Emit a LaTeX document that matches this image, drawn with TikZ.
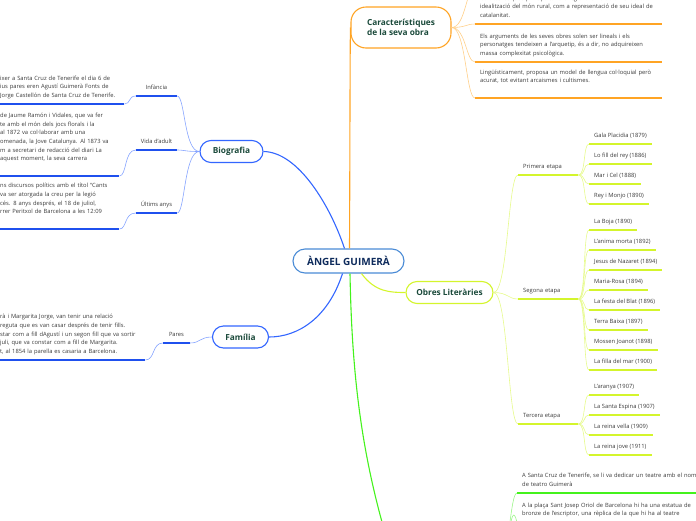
\documentclass[tikz,border=0pt]{standalone}
\usepackage{fontspec}
\setmainfont{Open Sans}
\definecolor{MapRoot}{HTML}{4A8BD6}
\definecolor{MapNavy}{HTML}{0E2B5C}
\definecolor{MapTopic}{HTML}{1B4A3B}
\definecolor{MapText}{HTML}{3A3A3A}
\definecolor{MapBlue}{HTML}{3366FF}
\definecolor{MapBlueDark}{HTML}{1F50EE}
\definecolor{MapBlueSoft}{HTML}{86A4FF}
\definecolor{MapOrange}{HTML}{FFA424}
\definecolor{MapOrangeSoft}{HTML}{FFD08A}
\definecolor{MapLime}{HTML}{D4F52C}
\definecolor{MapLimeSoft}{HTML}{E6FA8C}
\definecolor{MapGreen}{HTML}{44F21C}
\definecolor{MapGreenSoft}{HTML}{9CF58A}

\begin{document}
\begin{tikzpicture}[x=1pt,y=-1pt]
\tikzset{
  root/.style={draw=MapRoot,line width=1.1pt,rounded corners=12pt,fill=white,
               minimum width=111pt,minimum height=24pt,inner sep=0pt,
               text=MapNavy,font=\bfseries\fontsize{10}{12}\selectfont},
  topic/.style={line width=1.1pt,rounded corners=11pt,fill=white,inner sep=0pt,
                minimum height=22pt,text=MapTopic,font=\bfseries\fontsize{8.3}{10.5}\selectfont},
  branch/.style={line width=1.1pt},
  twig/.style={line width=0.6pt},
  uline/.style={line width=1.5pt},
  leaf/.style={anchor=south west,align=left,inner xsep=5pt,inner ysep=3.9pt,
               text=MapText,font=\fontsize{5.8}{8.6}\selectfont},
  stem/.style={anchor=south,inner xsep=0pt,inner ysep=3.9pt,
               text=MapText,font=\fontsize{5.8}{8.6}\selectfont}
}
\useasboundingbox (0,0) rectangle (696,520);
\clip (0,0) rectangle (696,520);

% ---------- central topic and main branches ---------------------------
\node[root] (root) at (348.5,261) {ÀNGEL GUIMERÀ};
\node[topic,draw=MapBlue,minimum width=63pt] (bio) at (231.5,151.5) {Biografia};
\node[topic,draw=MapBlue,minimum width=56pt] (fam) at (240.5,337) {Família};
\node[topic,draw=MapOrange,minimum width=100pt,minimum height=41pt,
      rounded corners=15pt,align=left] (car) at (401,27.5) {Característiques\\de la seva obra};
\node[topic,draw=MapLime,minimum width=87pt] (obres) at (449.5,292.5) {Obres Literàries};
\coordinate (llegat) at (400,580);

\draw[branch,MapBlue] ([xshift=-4pt]root.north) .. controls (330,205) and (298,152) .. (bio.east);
\draw[branch,MapBlue] ([xshift=-6pt]root.south) .. controls (328,318) and (298,337) .. (fam.east);
\draw[branch,MapOrange] ([xshift=1pt]root.north) .. controls (350,140) and (350,50) .. (car.west);
\draw[branch,MapLime] ([xshift=13pt]root.south) .. controls (375,292) and (390,292.5) .. (obres.west);
\draw[branch,MapGreen] ([xshift=1.5pt]root.south) .. controls (352,380) and (362,470) .. (llegat);

% ---------- Biografia ---------------------------------------------------
\node[stem,minimum width=41pt] (infancia) at (156.5,96) {Infància\strut};
\node[stem,minimum width=41pt] (vida) at (156.5,150) {Vida d'adult\strut};
\node[stem,minimum width=41pt] (ultims) at (156.5,213) {Últims anys\strut};
\foreach \nm/\yy in {infancia/96,vida/150,ultims/213}{
  \draw[uline,MapBlueDark] (\nm.south west) -- (\nm.south east);
  \draw[twig,MapBlueSoft] (bio.west) .. controls (184,151.5) and (185,\yy) .. (\nm.south east);
}

\node[leaf,text width=119pt] (infanciatxt) at (-5,104)
  {ixer a Santa Cruz de Tenerife el dia 6 de\\
   ius pares eren Agustí Guimerà Fonts de\\
   Jorge Castellón de Santa Cruz de Tenerife.\strut};
\node[leaf,text width=114pt] (vidatxt) at (-5,176)
  {de Jaume Ramón i Vidales, que va fer\\
   te amb el món dels jocs florals i la\\
   al 1872 va col·laborar amb una\\
   omenada, la Jove Catalunya. Al 1873 va\\
   m a secretari de redacció del diari La\\
   aquest moment, la seva carrera\\\strut};
\node[leaf,text width=114pt] (ultimstxt) at (-5,229)
  {ns discursos polítics amb el títol “Cants\\
   va ser atorgada la creu per la legió\\
   cés. 8 anys després, el 18 de juliol,\\
   rrer Peritxol de Barcelona a les 12:09\\\strut};
\draw[uline,MapBlueDark] (infanciatxt.south west) -- (infanciatxt.south east);
\draw[uline,MapBlueDark] (vidatxt.south west) -- (vidatxt.south east);
\draw[uline,MapBlueDark] (ultimstxt.south west) -- (ultimstxt.south east);
\draw[twig,MapBlueSoft] (infancia.south west) .. controls (128,96) and (131,104) .. (infanciatxt.south east);
\draw[twig,MapBlueSoft] (vida.south west) .. controls (124,150) and (127,176) .. (vidatxt.south east);
\draw[twig,MapBlueSoft] (ultims.south west) .. controls (124,213) and (127,229) .. (ultimstxt.south east);

% ---------- Familia -----------------------------------------------------
\node[stem,minimum width=27pt] (pares) at (176.5,343) {Pares\strut};
\node[leaf,text width=140pt] (parestxt) at (-5,360)
  {rà i Margarita Jorge, van tenir una relació\\
   reguta que es van casar després de tenir fills.\\
   star com a fill dAgustí i un segon fill que va sortir\\
   juli, que va constar com a fill de Margarita.\\
   t, al 1854 la parella es casaria a Barcelona.\strut};
\draw[uline,MapBlueDark] (pares.south west) -- (pares.south east);
\draw[uline,MapBlueDark] (parestxt.south west) -- (parestxt.south east);
\draw[twig,MapBlueSoft] (fam.west) .. controls (200,337) and (200,343) .. (pares.south east);
\draw[twig,MapBlueSoft] (pares.south west) .. controls (152,343) and (155,360) .. (parestxt.south east);

% ---------- Caracteristiques de la seva obra ---------------------------
\coordinate (caratop) at (476,-14);
\node[leaf,text width=177pt] (cara1) at (475,24)
  {Característiques principals: fort regionalisme clarament català i\\
   idealització del món rural, com a representació de seu ideal de\\
   catalanitat.\strut};
\node[leaf,text width=177pt] (cara2) at (475,62)
  {Els arguments de les seves obres solen ser lineals i els\\
   personatges tendeixen a l'arquetip, és a dir, no adquireixen\\
   massa complexitat psicològica.\strut};
\node[leaf,text width=177pt] (cara3) at (475,98)
  {Lingüísticament, proposa un model de llengua col·loquial però\\
   acurat, tot evitant arcaismes i cultismes.\\\strut};
\draw[twig,MapOrangeSoft] (car.east) .. controls (466,27.5) and (466,-14) .. (caratop);
\foreach \nm/\yy in {cara1/24,cara2/62,cara3/98}{
  \draw[uline,MapOrange] (\nm.south west) -- (\nm.south east);
  \draw[twig,MapOrangeSoft] (car.east) .. controls (466,27.5) and (466,\yy) .. (\nm.south west);
}

% ---------- Obres Literaries --------------------------------------------
\node[leaf,text width=50pt] (primera) at (518,175) {Primera etapa\strut};
\node[leaf,text width=50pt] (segona) at (518,299) {Segona etapa\strut};
\node[leaf,text width=50pt] (tercera) at (518,424) {Tercera etapa\strut};
\foreach \nm/\yy in {primera/175,segona/299,tercera/424}{
  \draw[uline,MapLime] (\nm.south west) -- (\nm.south east);
  \draw[twig,MapLimeSoft] (obres.east) .. controls (508,292.5) and (508,\yy) .. (\nm.south west);
}

\foreach \nm/\yy/\tx in {gala/144/Gala Placidia (1879),fillrey/164/Lo fill del rey (1886),
                        marcel/184/Mar i Cel (1888),monjo/204/Rey i Monjo (1890)}{
  \node[leaf] (\nm) at (589,\yy) {\tx\strut};
  \draw[uline,MapLime] (\nm.south west) -- (\nm.south east);
  \draw[twig,MapLimeSoft] (primera.south east) .. controls (586,175) and (583,\yy) .. (\nm.south west);
}
\foreach \nm/\yy/\tx in {boja/230/La Boja (1890),anima/250/L'anima morta (1892),
                        jesus/270/Jesus de Nazaret (1894),mariarosa/290/Maria-Rosa (1894),
                        festa/310/La festa del Blat (1896),terra/330/Terra Baixa (1897),
                        mossen/350/Mossen Joanot (1898),filla/370/La filla del mar (1900)}{
  \node[leaf] (\nm) at (589,\yy) {\tx\strut};
  \draw[uline,MapLime] (\nm.south west) -- (\nm.south east);
  \draw[twig,MapLimeSoft] (segona.south east) .. controls (586,299) and (583,\yy) .. (\nm.south west);
}
\foreach \nm/\yy/\tx in {aranya/395/L'aranya (1907),espina/415/La Santa Espina (1907),
                        vella/435/La reina vella (1909),jove/455/La reina jove (1911)}{
  \node[leaf] (\nm) at (589,\yy) {\tx\strut};
  \draw[uline,MapLime] (\nm.south west) -- (\nm.south east);
  \draw[twig,MapLimeSoft] (tercera.south east) .. controls (586,424) and (583,\yy) .. (\nm.south west);
}

% ---------- green branch (its topic lies below the frame) ---------------
\coordinate (llegathub) at (497,560);
\node[leaf,text width=200pt] (homenatge1) at (517,493)
  {A Santa Cruz de Tenerife, se li va dedicar un teatre amb el nom\\
   de teatro Guimerà\strut};
\node[leaf,text width=200pt] (homenatge2) at (517,522.5)
  {A la plaça Sant Josep Oriol de Barcelona hi ha una estatua de\\
   bronze de l'escriptor, una rèplica de la que hi ha al teatre\strut};
\foreach \nm in {homenatge1,homenatge2}{
  \draw[uline,MapGreen] (\nm.south west) -- (\nm.south east);
  \draw[twig,MapGreenSoft] (llegathub) .. controls (510,560) and (510,493) .. (\nm.south west);
}
\end{tikzpicture}
\end{document}
